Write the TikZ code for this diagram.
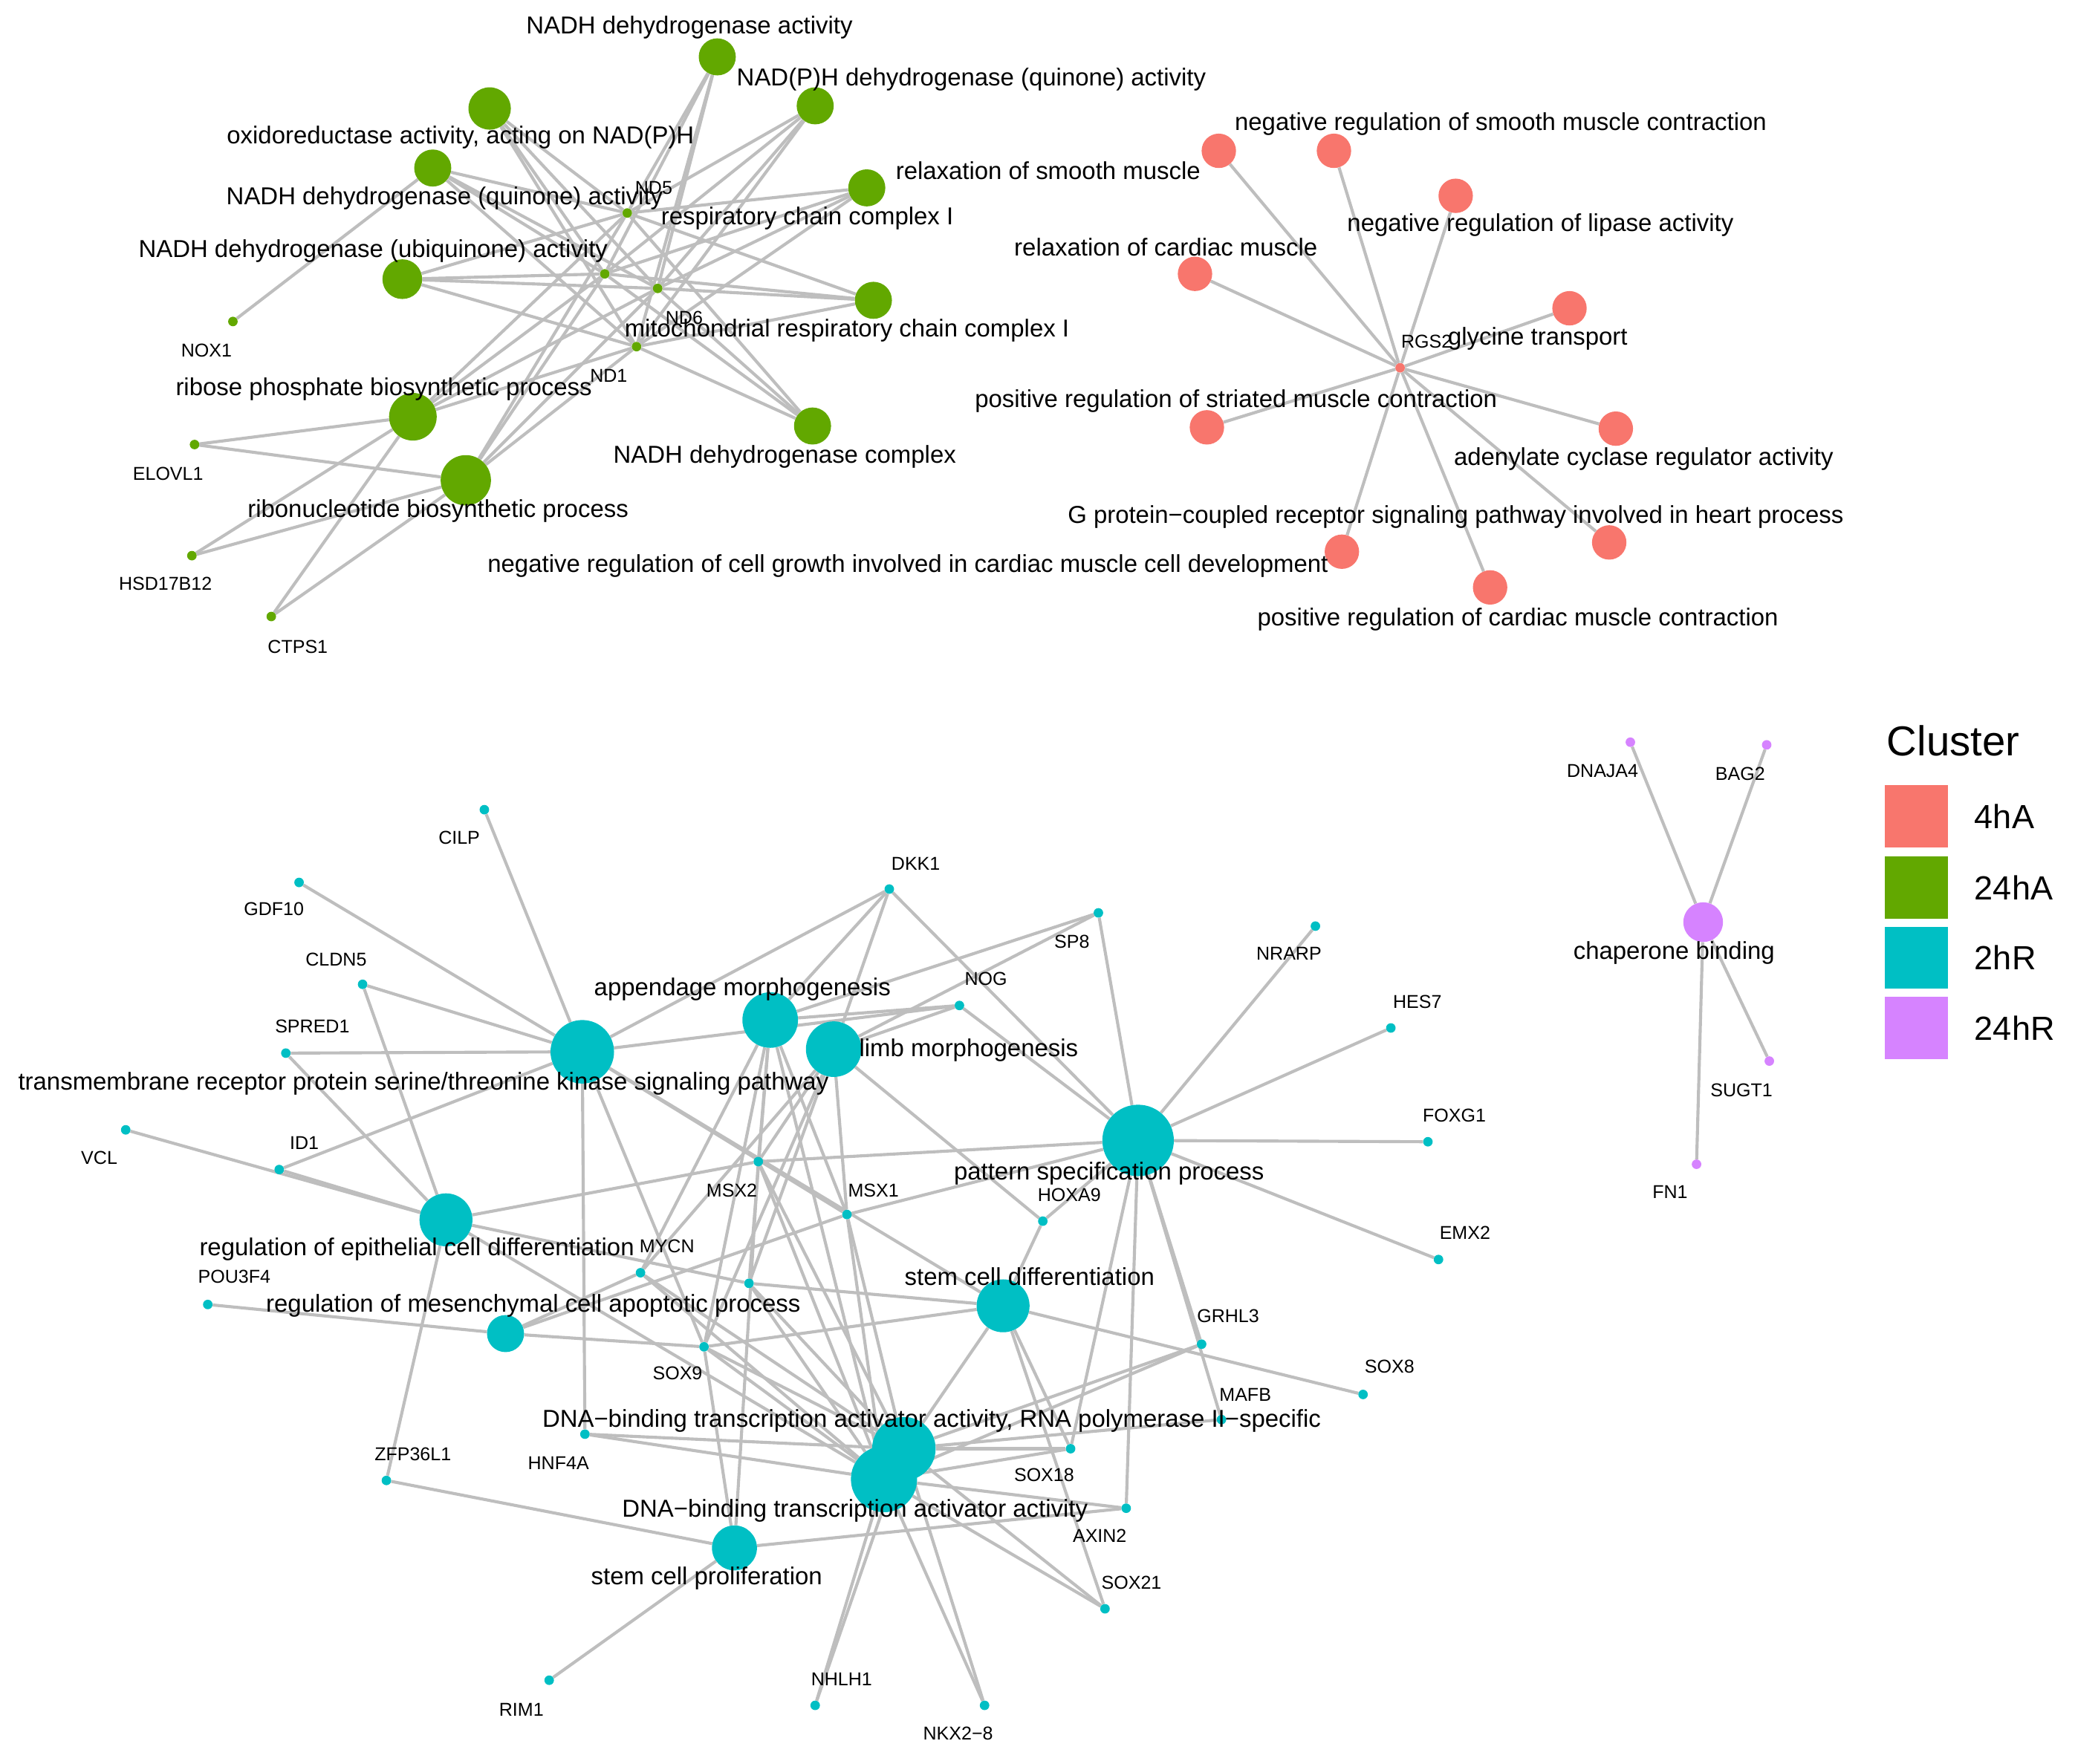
\documentclass[tikz,border=0pt]{standalone}
\usepackage{fontspec}
\setmainfont{Liberation Sans}
\begin{document}
\pgfdeclarelayer{bg}\pgfsetlayers{bg,main}
\definecolor{cR}{HTML}{F8766D}\definecolor{cG}{HTML}{62A800}
\definecolor{cC}{HTML}{00BFC4}\definecolor{cP}{HTML}{D683FF}
\definecolor{ed}{HTML}{BEBEBE}
\begin{tikzpicture}[x=0.05cm,y=-0.05cm,
 edge/.style={ed,line width=3.3pt},
 dot/.style={circle,inner sep=0pt,minimum size=#1*0.1cm},
 big/.style={font=\fontsize{26.3}{30}\selectfont,inner sep=0pt},
 sm/.style={font=\fontsize{20}{24}\selectfont,inner sep=0pt}]
\useasboundingbox (0,0) rectangle (1568,1333);
% ---------- green ----------
\foreach \n/\x/\y/\r in {NADHact/542/43/14,NADPH/616/80/14,oxred/370/82/16,NADHquin/327/127/14,
 respchain/655/142/14,NADHubi/304/211/15,mitoresp/660/227/14,ribosephos/312/315/18,
 NADHcomplex/614/322/14,ribonuc/352/363/19}
 \node[dot=\r,fill=cG] (\n) at (\x,\y) {};
\foreach \n/\x/\y in {ND5/474/161,NDx/457/207,ND6/497/218,ND1/481/262,NOX1/176/243,
 ELOVL1/147/336,HSD17B12/145/420,CTPS1/205/466}
 \node[dot=3.6,fill=cG] (\n) at (\x,\y) {};
\node[big] (lNADHact) at (521,21) {NADH dehydrogenase activity};
\node[big] (lNADPH) at (734,60) {NAD(P)H dehydrogenase (quinone) activity};
\node[big] (loxred) at (348,104) {oxidoreductase activity, acting on NAD(P)H};
\node[big] (lNADHquin) at (336,150) {NADH dehydrogenase (quinone) activity};
\node[big] (lrespchain) at (610,165) {respiratory chain complex I};
\node[big] (lrelax) at (792,129) {relaxation of smooth muscle};
\node[big] (lNADHubi) at (282,190) {NADH dehydrogenase (ubiquinone) activity};
\node[big] (lmito) at (640,250) {mitochondrial respiratory chain complex I};
\node[big] (lribose) at (290,294) {ribose phosphate biosynthetic process};
\node[big] (lcomplex) at (593,345) {NADH dehydrogenase complex};
\node[big] (lribonuc) at (331,386) {ribonucleotide biosynthetic process};
\node[sm] (lND5) at (494,142) {ND5};
\node[sm] (lND6) at (517,240) {ND6};
\node[sm] (lND1) at (460,284) {ND1};
\node[sm] (lNOX1) at (156,265) {NOX1};
\node[sm] (lELOVL1) at (127,358) {ELOVL1};
\node[sm] (lHSD) at (125,441) {HSD17B12};
\node[sm] (lCTPS1) at (225,489) {CTPS1};
% ---------- red ----------
\node[dot=3.6,fill=cR] (RGS2) at (1058,278) {};
\foreach \n/\x/\y in {negsmooth/1008/114,relaxsmooth/921/114,neglipase/1100/148,relaxcardiac/903/207,
 glycine/1186/233,posstriated/912/323,adenylate/1221/324,Gprot/1216/410,neggrowth/1014/417,poscardiac/1126/444}
 \node[dot=13,fill=cR] (\n) at (\x,\y) {};
\node[sm] (lRGS2) at (1078,258) {RGS2};
\node[big] (l1) at (1134,94) {negative regulation of smooth muscle contraction};
\node[big] (l2) at (1164,170) {negative regulation of lipase activity};
\node[big] (l3) at (881,187) {relaxation of cardiac muscle};
\node[big] (l4) at (1162,256) {glycine transport};
\node[big] (l5) at (934,303) {positive regulation of striated muscle contraction};
\node[big] (l6) at (1242,347) {adenylate cyclase regulator activity};
\node[big] (l7) at (1100,391) {G protein−coupled receptor signaling pathway involved in heart process};
\node[big] (l8) at (686,428) {negative regulation of cell growth involved in cardiac muscle cell development};
\node[big] (l9) at (1147,468) {positive regulation of cardiac muscle contraction};
% ---------- cyan ----------
\foreach \n/\x/\y/\r in {TM/440/795/24,append/582/771/21,limb/630/793/21,pattern/860/862/27,
 regepi/337/922/20,stemdiff/758/987/20,regmes/382/1008/14,DNAact/668/1118/25,DNApol/683/1095/24,stemprolif/555/1170/17}
 \node[dot=\r,fill=cC] (\n) at (\x,\y) {};
\foreach \n/\x/\y/\lx/\ly/\t in {CILP/366/612/347/633/CILP,GDF10/226/667/207/687/GDF10,CLDN5/274/744/254/725/CLDN5,
 SPRED1/216/796/236/776/SPRED1,VCL/95/854/75/875/VCL,ID1/211/884/230/864/ID1,DKK1/672/672/692/653/DKK1,
 SP8/830/690/810/712/SP8,NOG/725/760/745/740/NOG,NRARP/994/700/974/721/NRARP,HES7/1051/777/1071/757/HES7,
 FOXG1/1079/863/1099/843/FOXG1,EMX2/1087/952/1107/932/EMX2,MSX2/573/878/553/900/MSX2,MSX1/640/918/660/900/MSX1,
 HOXA9/788/923/808/903/HOXA9,MYCN/484/962/504/942/MYCN,POU3F4/157/986/177/965/POU3F4,SOX9/532/1018/512/1038/SOX9,
 GRHL3/908/1016/928/995/GRHL3,SOX8/1030/1054/1050/1033/SOX8,MAFB/923/1073/941/1054/MAFB,HNF4A/442/1084/422/1106/HNF4A,
 ZFP36L1/292/1119/312/1099/ZFP36L1,SOX18/809/1095/789/1115/SOX18,AXIN2/851/1140/831/1161/AXIN2,
 SOX21/835/1216/855/1196/SOX21,RIM1/415/1270/394/1292/RIM1,NHLH1/616/1289/636/1269/NHLH1,NKX28/744/1289/724/1310/NKX2−8}
 {\node[dot=3.6,fill=cC] (\n) at (\x,\y) {};
  \node[sm] (l\n) at (\lx,\ly) {\t};}
\node[dot=3.6,fill=cC] (SMAD) at (566,970) {};
\node[big] (lTM) at (320,819) {transmembrane receptor protein serine/threonine kinase signaling pathway};
\node[big] (lappend) at (561,748) {appendage morphogenesis};
\node[big] (llimb) at (732,794) {limb morphogenesis};
\node[big] (lpattern) at (838,887) {pattern specification process};
\node[big] (lregepi) at (315,944) {regulation of epithelial cell differentiation};
\node[big] (lstemdiff) at (778,965) {stem cell differentiation};
\node[big] (lregmes) at (403,987) {regulation of mesenchymal cell apoptotic process};
\node[big] (lDNApol) at (704,1074) {DNA−binding transcription activator activity, RNA polymerase II−specific};
\node[big] (lDNAact) at (646,1142) {DNA−binding transcription activator activity};
\node[big] (lstemprolif) at (534,1193) {stem cell proliferation};
% ---------- purple ----------
\node[dot=15,fill=cP] (chap) at (1287,697) {};
\foreach \n/\x/\y/\lx/\ly in {DNAJA4/1232/561/1211/583,BAG2/1335/563/1315/585,SUGT1/1337/802/1316/824,FN1/1282/880/1262/901}
 {\node[dot=3.6,fill=cP] (\n) at (\x,\y) {};
  \node[sm] (l\n) at (\lx,\ly) {\n};}
\node[big] (lchap) at (1265,720) {chaperone binding};
% ---------- legend ----------
\node[font=\fontsize{45}{50}\selectfont,inner sep=0pt] (leg) at (1476,560) {Cluster};
\foreach \n/\c/\y/\t in {k1/cR/617/4hA,k2/cG/671/24hA,k3/cC/724/2hR,k4/cP/777/24hR}
 {\node[fill=\c,minimum width=2.4cm,minimum height=2.35cm,inner sep=0pt] (\n) at (1448,\y) {};
  \node[font=\fontsize{36}{40}\selectfont,inner sep=0pt,anchor=west] (l\n) at (1492,\y) {\t};}
% ---------- edges ----------
\begin{pgfonlayer}{bg}
\foreach \g in {ND5,NDx,ND6,ND1}
 \foreach \c in {NADHact,NADPH,oxred,NADHquin,respchain,NADHubi,mitoresp,NADHcomplex,ribosephos,ribonuc}
  \draw[edge] (\g) -- (\c);
\foreach \a/\b in {NOX1/NADHquin,ELOVL1/ribosephos,ELOVL1/ribonuc,HSD17B12/ribosephos,HSD17B12/ribonuc,
 CTPS1/ribosephos,CTPS1/ribonuc}
 \draw[edge] (\a) -- (\b);
\foreach \c in {negsmooth,relaxsmooth,neglipase,relaxcardiac,glycine,posstriated,adenylate,Gprot,neggrowth,poscardiac}
 \draw[edge] (RGS2) -- (\c);
\foreach \g in {DNAJA4,BAG2,SUGT1,FN1} \draw[edge] (chap) -- (\g);
\foreach \a/\b in {TM/CILP,TM/GDF10,TM/CLDN5,TM/SPRED1,TM/ID1,TM/DKK1,TM/NOG,TM/MSX1,TM/HNF4A,TM/SOX9,TM/stemdiff,
 append/DKK1,append/NOG,append/SP8,append/MSX2,append/MSX1,append/SMAD,append/SOX9,append/MYCN,append/DNAact,
 limb/DKK1,limb/NOG,limb/SP8,limb/MSX2,limb/MSX1,limb/HOXA9,limb/SOX9,limb/MYCN,limb/SMAD,
 pattern/SP8,pattern/NRARP,pattern/HES7,pattern/FOXG1,pattern/EMX2,pattern/MSX2,pattern/HOXA9,pattern/GRHL3,
 pattern/MAFB,pattern/SOX18,pattern/AXIN2,pattern/DKK1,pattern/NOG,pattern/MSX1,
 regepi/VCL,regepi/ID1,regepi/SPRED1,regepi/CLDN5,regepi/MSX2,regepi/ZFP36L1,regepi/SMAD,regepi/DNAact,
 regmes/POU3F4,regmes/SOX9,regmes/MYCN,regmes/MSX1,
 stemdiff/HOXA9,stemdiff/SOX8,stemdiff/SOX9,stemdiff/SMAD,stemdiff/DNAact,stemdiff/SOX21,stemdiff/SOX18,
 DNAact/SOX9,DNAact/MSX2,DNAact/MSX1,DNAact/MYCN,DNAact/HNF4A,DNAact/SOX18,DNAact/GRHL3,DNAact/SOX21,
 DNAact/NHLH1,DNAact/NKX28,DNAact/AXIN2,DNAact/SMAD,
 DNApol/SOX9,DNApol/MSX2,DNApol/MSX1,DNApol/MYCN,DNApol/HNF4A,DNApol/SOX18,DNApol/GRHL3,DNApol/SOX21,
 DNApol/NHLH1,DNApol/NKX28,DNApol/MAFB,DNApol/SMAD,
 stemprolif/ZFP36L1,stemprolif/RIM1,stemprolif/AXIN2,stemprolif/SOX9,stemprolif/MSX2}
 \draw[edge] (\a) -- (\b);
\end{pgfonlayer}
\end{tikzpicture}
\end{document}
